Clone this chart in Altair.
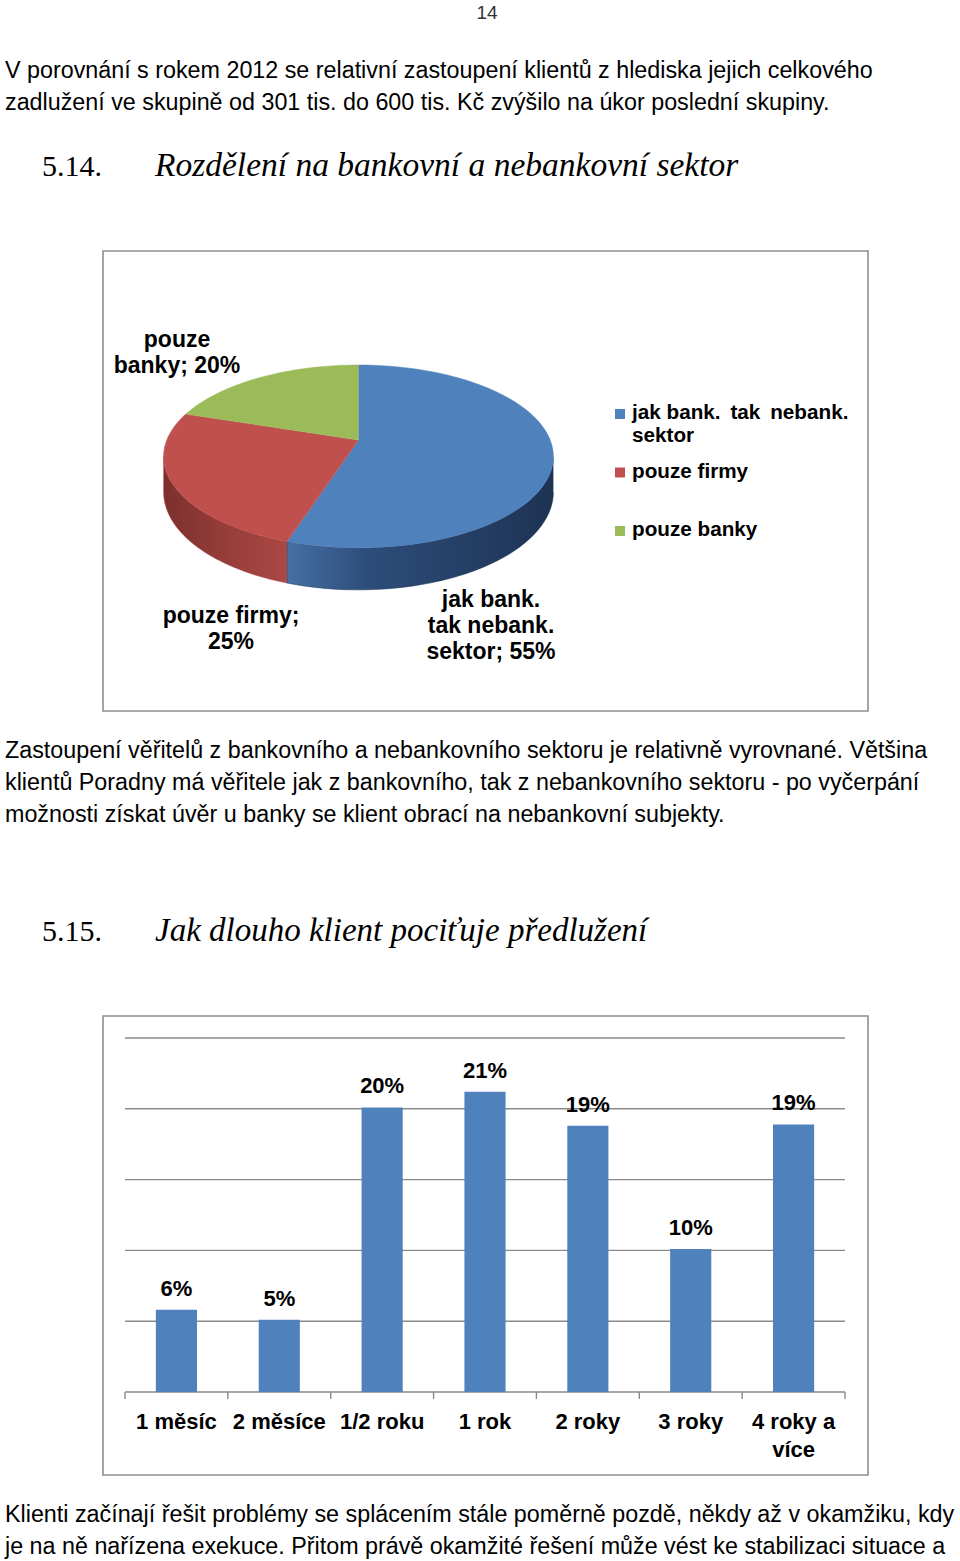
import altair as alt
import pandas as pd

W, H = 960, 1561

# ---------------- data ----------------
pie_cats = ["jak bank. tak nebank. sektor", "pouze firmy", "pouze banky"]
pie_vals = [55, 25, 20]
pie_colors = ["#4F81BD", "#C0504D", "#9BBB59"]
pie_label_heads = ["jak bank.\ntak nebank.\nsektor", "pouze firmy", "pouze\nbanky"]
pie_label_seps = ["; ", ";\n", "; "]
TS = "\u2009"
legend_labels = [f"jak bank.{TS} tak{TS} nebank.\nsektor", "pouze firmy", "pouze banky"]

bar_cats = ["1 měsíc", "2 měsíce", "1/2 roku", "1 rok", "2 roky", "3 roky", "4 roky a více"]
bar_vals = [5.8, 5.1, 20.1, 21.2, 18.8, 10.1, 18.9]
bar_cat_labels = ["1 měsíc", "2 měsíce", "1/2 roku", "1 rok", "2 roky", "3 roky", "4 roky a\nvíce"]
bar_grid = [0, 5, 10, 15, 20, 25]

para1 = ["V porovnání s rokem 2012 se relativní zastoupení klientů z hlediska jejich celkového",
         "zadlužení ve skupině od 301 tis. do 600 tis. Kč zvýšilo na úkor poslední skupiny."]
para2 = ["Zastoupení věřitelů z bankovního a nebankovního sektoru je relativně vyrovnané. Většina",
         "klientů Poradny má věřitele jak z bankovního, tak z nebankovního sektoru - po vyčerpání",
         "možnosti získat úvěr u banky se klient obrací na nebankovní subjekty."]
para3 = ["Klienti začínají řešit problémy se splácením stále poměrně pozdě, někdy až v okamžiku, kdy",
         "je na ně nařízena exekuce. Přitom právě okamžité řešení může vést ke stabilizaci situace a"]
title1 = ("5.14.", "Rozdělení na bankovní a nebankovní sektor")
title2 = ("5.15.", "Jak dlouho klient pociťuje předlužení")
page_no = "14"

# ---------------- helpers ----------------
BODY_FONT = "Liberation Sans"
BODY_SIZE = 23.3
HEAD_FONT = "Liberation Serif"
LBL_FONT = "Liberation Sans"

one = pd.DataFrame({"k": [0]})


def text_block(lines, x, y, size=BODY_SIZE, font=BODY_FONT, weight="normal",
               style="normal", align="left", lh=32, color="#000000"):
    return alt.Chart(pd.DataFrame({"t": ["\n".join(lines)]})).mark_text(
        font=font, fontSize=size, fontWeight=weight, fontStyle=style,
        align=align, baseline="alphabetic", lineBreak="\n", lineHeight=lh,
        color=color,
    ).encode(text="t:N", x=alt.value(x), y=alt.value(y))


def frame(x1, y1, x2, y2):
    return alt.Chart(one).mark_rect(
        fill=None, stroke="#8E8E8E", strokeWidth=1.6
    ).encode(x=alt.value(x1), x2=alt.value(x2), y=alt.value(y1), y2=alt.value(y2))


layers = []

# page texts
layers.append(text_block([page_no], 487, 19, size=19, font="Liberation Sans",
                         align="center", color="#333333"))
layers.append(text_block(para1, 5, 78))
layers.append(text_block([title1[0]], 42, 176, size=30, font=HEAD_FONT))
layers.append(text_block([title1[1]], 155, 176, size=33.5, font=HEAD_FONT, style="italic"))
layers.append(text_block(para2, 5, 758))
layers.append(text_block([title2[0]], 42, 941, size=30, font=HEAD_FONT))
layers.append(text_block([title2[1]], 155, 941, size=33, font=HEAD_FONT, style="italic"))
layers.append(text_block(para3, 5, 1522))

# frames
layers.append(frame(103, 251, 868, 711))
layers.append(frame(103, 1016, 868, 1475))

# ---------------- 3D pie (perspective-projected tilted disc) ----------------
pie_df = pd.DataFrame({"cat": pie_cats, "value": pie_vals, "i": list(range(len(pie_cats)))})
CX, CY, R, T = 358.5, 440, 191.7, 88.5   # apex centre, horizontal radius, vertical half-scale
P = 0.18                                  # perspective strength
DN = 34.4 / T                             # wall depth in unit coordinates
xs_pie = alt.Scale(domain=[-1, 1], range=[CX - R, CX + R], nice=False, zero=False)
ys_pie = alt.Scale(domain=[-1, 1], range=[CY + T, CY - T], nice=False, zero=False)
VIS0, VIS1 = 27.9, 72.1                   # visible front wall, percent of turn

base_pie = alt.Chart(pie_df).transform_window(
    cum="sum(value)", sort=[alt.SortField("i")], frame=[None, 0]
).transform_joinaggregate(
    tot="sum(value)"
).transform_calculate(
    start="100 * (datum.cum - datum.value) / datum.tot",
    end="100 * datum.cum / datum.tot",
)

side_grad = {
    pie_cats[0]: [("#4670a4", 0), ("#2d4d7a", 0.3), ("#1e3354", 1)],
    pie_cats[1]: [("#7c302e", 0), ("#983e3b", 0.55), ("#aa4845", 1)],
}

for cat, stops in side_grad.items():
    side = base_pie.transform_filter(
        alt.datum.cat == cat
    ).transform_calculate(
        s0=f"max(datum.start, {VIS0})", e0=f"min(datum.end, {VIS1})"
    ).transform_filter(
        "datum.e0 > datum.s0"
    ).transform_calculate(
        pts="sequence(0, 82)"
    ).transform_flatten(
        ["pts"]
    ).transform_calculate(
        t="datum.pts <= 40 ? datum.pts / 40 : (81 - datum.pts) / 40",
        dz="datum.pts <= 40 ? 0 : 1",
    ).transform_calculate(
        a="2 * PI * (datum.s0 + (datum.e0 - datum.s0) * datum.t) / 100"
    ).transform_calculate(
        k=f"1 / (1 + {P} * cos(datum.a))"
    ).transform_calculate(
        ux="sin(datum.a) * datum.k",
        uy=f"(cos(datum.a) - datum.dz * {DN}) * datum.k",
    ).mark_line(
        fill=alt.Gradient(gradient="linear", x1=0, x2=1, y1=0, y2=0,
                          stops=[alt.GradientStop(color=c, offset=o) for c, o in stops]),
        stroke=stops[-1][0], strokeWidth=0.5, interpolate="linear",
    ).encode(
        x=alt.X("ux:Q", scale=xs_pie, axis=None),
        y=alt.Y("uy:Q", scale=ys_pie, axis=None),
        order=alt.Order("pts:Q"),
    )
    layers.append(side)

for cat, col in zip(pie_cats, pie_colors):
    top = base_pie.transform_filter(
        alt.datum.cat == cat
    ).transform_calculate(
        pts="sequence(-1, 61)"
    ).transform_flatten(
        ["pts"]
    ).transform_calculate(
        a="2 * PI * (datum.start + (datum.end - datum.start) * max(datum.pts, 0) / 60) / 100"
    ).transform_calculate(
        k=f"1 / (1 + {P} * cos(datum.a))"
    ).transform_calculate(
        ux="datum.pts < 0 ? 0 : sin(datum.a) * datum.k",
        uy="datum.pts < 0 ? 0 : cos(datum.a) * datum.k",
    ).mark_line(
        fill=col, stroke=col, strokeWidth=0.5, interpolate="linear",
    ).encode(
        x=alt.X("ux:Q", scale=xs_pie, axis=None),
        y=alt.Y("uy:Q", scale=ys_pie, axis=None),
        order=alt.Order("pts:Q"),
    )
    layers.append(top)

# pie data labels
pie_label_pos = [(491, 607), (231, 623), (177, 347)]
for (cat, head, sep), (lx, ly) in zip(zip(pie_cats, pie_label_heads, pie_label_seps), pie_label_pos):
    lab = alt.Chart(pie_df).transform_filter(alt.datum.cat == cat).transform_calculate(
        lab=f"{repr(head)} + {repr(sep)} + datum.value + '%'"
    ).mark_text(
        font=LBL_FONT, fontSize=23, fontWeight="bold", align="center",
        baseline="alphabetic", lineBreak="\n", lineHeight=26, color="#000000",
    ).encode(text="lab:N", x=alt.value(lx), y=alt.value(ly))
    layers.append(lab)

# legend
leg_df = pd.DataFrame({"cat": pie_cats, "lab": legend_labels})
leg_y = alt.Scale(domain=pie_cats, range=[419, 536], padding=0)
leg_c = alt.Scale(domain=pie_cats, range=pie_colors)
layers.append(alt.Chart(leg_df).mark_square(size=100, opacity=1, yOffset=-5).encode(
    x=alt.value(620),
    y=alt.Y("cat:N", scale=leg_y, axis=None),
    color=alt.Color("cat:N", scale=leg_c, legend=None),
))
layers.append(alt.Chart(leg_df).mark_text(
    font=LBL_FONT, fontSize=20.7, fontWeight="bold", align="left", baseline="alphabetic",
    lineBreak="\n", lineHeight=23, color="#000000",
).encode(
    text="lab:N", x=alt.value(632), y=alt.Y("cat:N", scale=leg_y, axis=None),
))

# ---------------- bar chart ----------------
bar_df = pd.DataFrame({"cat": bar_cats, "v": bar_vals, "lab": bar_cat_labels})
grid_df = pd.DataFrame({"g": bar_grid})
XL, XR, YB, YT = 125, 845, 1392, 1038
bx = alt.Scale(domain=bar_cats, range=[XL, XR], paddingInner=0.6, paddingOuter=0.3)
by = alt.Scale(domain=[0, 25], range=[YB, YT], nice=False, zero=True)
STEP = (XR - XL) / len(bar_cats)

layers.append(alt.Chart(grid_df).mark_rule(color="#8A8A8A", strokeWidth=1.4).encode(
    y=alt.Y("g:Q", scale=by, axis=None), x=alt.value(XL), x2=alt.value(XR),
))
layers.append(alt.Chart(bar_df).mark_rule(color="#8A8A8A", strokeWidth=1.4, xOffset=-STEP / 2).encode(
    x=alt.X("cat:N", scale=bx, sort=bar_cats, axis=None), y=alt.value(YB), y2=alt.value(YB + 7),
))
layers.append(alt.Chart(bar_df).transform_filter(alt.datum.cat == bar_cats[-1]).mark_rule(
    color="#8A8A8A", strokeWidth=1.4, xOffset=STEP / 2).encode(
    x=alt.X("cat:N", scale=bx, sort=bar_cats, axis=None), y=alt.value(YB), y2=alt.value(YB + 7),
))
layers.append(alt.Chart(bar_df).mark_bar(color="#4F81BD").encode(
    x=alt.X("cat:N", scale=bx, sort=bar_cats, axis=None),
    y=alt.Y("v:Q", scale=by, axis=None),
))
layers.append(alt.Chart(bar_df).transform_calculate(
    pct="format(datum.v, '.0f') + '%'"
).mark_text(
    font=LBL_FONT, fontSize=22, fontWeight="bold", baseline="middle", dy=-21, color="#000000",
).encode(
    x=alt.X("cat:N", scale=bx, sort=bar_cats, axis=None),
    y=alt.Y("v:Q", scale=by, axis=None),
    text="pct:N",
))
layers.append(alt.Chart(bar_df).mark_text(
    font=LBL_FONT, fontSize=22, fontWeight="bold", baseline="alphabetic",
    lineBreak="\n", lineHeight=28, color="#000000",
).encode(
    x=alt.X("cat:N", scale=bx, sort=bar_cats, axis=None),
    y=alt.value(1429),
    text="lab:N",
))

chart = alt.layer(*layers).resolve_scale(
    x="independent", y="independent", color="independent"
).properties(
    width=W, height=H, padding=0, autosize=alt.AutoSizeParams(type="none"),
    background="#ffffff",
).configure_view(strokeWidth=0)

chart.save("out.html", embed_options={"renderer": "svg", "actions": False})
